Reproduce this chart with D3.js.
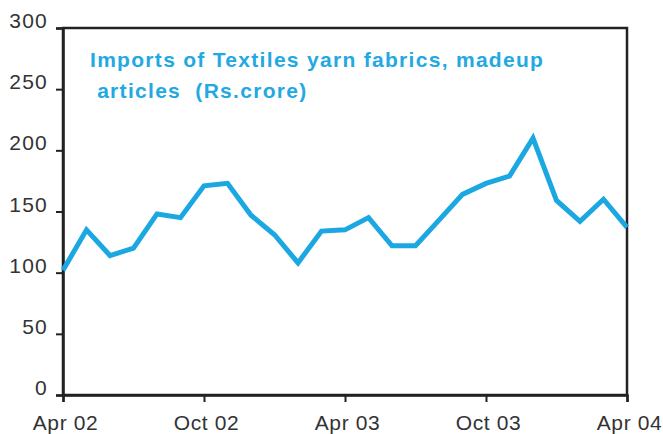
<!DOCTYPE html>
<html>
<head>
<meta charset="utf-8">
<script src="https://cdn.jsdelivr.net/npm/d3@7"></script>
<style>
  body { margin: 0; background: #fff; }
  svg { display: block; }
</style>
</head>
<body>
<div id="chart"></div>
<script>
// Monthly imports, Apr 02 .. Apr 04
const months = [
  "Apr 02", "May 02", "Jun 02", "Jul 02", "Aug 02", "Sep 02", "Oct 02", "Nov 02", "Dec 02",
  "Jan 03", "Feb 03", "Mar 03", "Apr 03", "May 03", "Jun 03", "Jul 03", "Aug 03", "Sep 03",
  "Oct 03", "Nov 03", "Dec 03", "Jan 04", "Feb 04", "Mar 04", "Apr 04"
];
const imports = [
  102, 135, 114, 120, 148, 145, 171, 173, 147,
  131, 108, 134, 135, 145, 122, 122, 143, 164,
  173, 179, 210, 159, 142, 160, 137
];
const xTickLabels = ["Apr 02", "Oct 02", "Apr 03", "Oct 03", "Apr 04"];
const yTicks = [0, 50, 100, 150, 200, 250, 300];
const titleLines = ["Imports of Textiles yarn fabrics, madeup", " articles  (Rs.crore)"];

const width = 663;
const height = 434;
const margin = { top: 28, right: 36, bottom: 39, left: 63 };

const svg = d3.select("#chart")
  .append("svg")
  .attr("width", width)
  .attr("height", height);

const x = d3.scalePoint()
  .domain(months)
  .range([margin.left, width - margin.right]);

const y = d3.scaleLinear()
  .domain([0, 300])
  .range([height - margin.bottom, margin.top]);

const font = "Arial, 'Liberation Sans', sans-serif";

// frame
svg.append("rect")
  .attr("x", margin.left)
  .attr("y", margin.top)
  .attr("width", width - margin.right - margin.left)
  .attr("height", height - margin.bottom - margin.top)
  .attr("fill", "none")
  .attr("stroke", "#222")
  .attr("stroke-width", 2.5);

// y axis
const yAxis = svg.append("g")
  .attr("transform", `translate(${margin.left},0)`)
  .call(d3.axisLeft(y).tickValues(yTicks).tickSize(7).tickPadding(8));
yAxis.select(".domain").attr("stroke", "#222").attr("stroke-width", 2.5);
yAxis.selectAll(".tick line").attr("stroke", "#222").attr("stroke-width", 2);
yAxis.selectAll(".tick text")
  .attr("dy", "-0.02em")
  .attr("fill", "#333")
  .style("letter-spacing", "1.2px")
  .style("font-size", "21px")
  .style("font-family", font);

// x axis
const xAxis = svg.append("g")
  .attr("transform", `translate(0,${height - margin.bottom})`)
  .call(d3.axisBottom(x).tickValues(xTickLabels).tickSize(7).tickPadding(13));
xAxis.select(".domain").attr("stroke", "#222").attr("stroke-width", 2.5);
xAxis.selectAll(".tick line").attr("stroke", "#222").attr("stroke-width", 2);
xAxis.selectAll(".tick text")
  .attr("fill", "#333")
  .attr("dx", 2)
  .style("letter-spacing", "0.6px")
  .style("font-size", "21px")
  .style("font-family", font);

// series line
const line = d3.line()
  .x((d, i) => x(months[i]))
  .y(d => y(d));

svg.append("path")
  .datum(imports)
  .attr("fill", "none")
  .attr("stroke", "#1ba8e2")
  .attr("stroke-width", 5)
  .attr("stroke-linejoin", "miter")
  .attr("d", line);

// title inside plot
svg.append("text")
  .attr("x", 90)
  .attr("y", 67)
  .attr("fill", "#22a9e2")
  .style("font-weight", "bold")
  .style("font-size", "21px")
  .style("font-family", font)
  .style("letter-spacing", "1.3px")
  .style("white-space", "pre")
  .selectAll("tspan")
  .data(titleLines)
  .join("tspan")
  .attr("x", 90)
  .attr("dy", (d, i) => i === 0 ? 0 : 31)
  .text(d => d);
</script>
</body>
</html>
